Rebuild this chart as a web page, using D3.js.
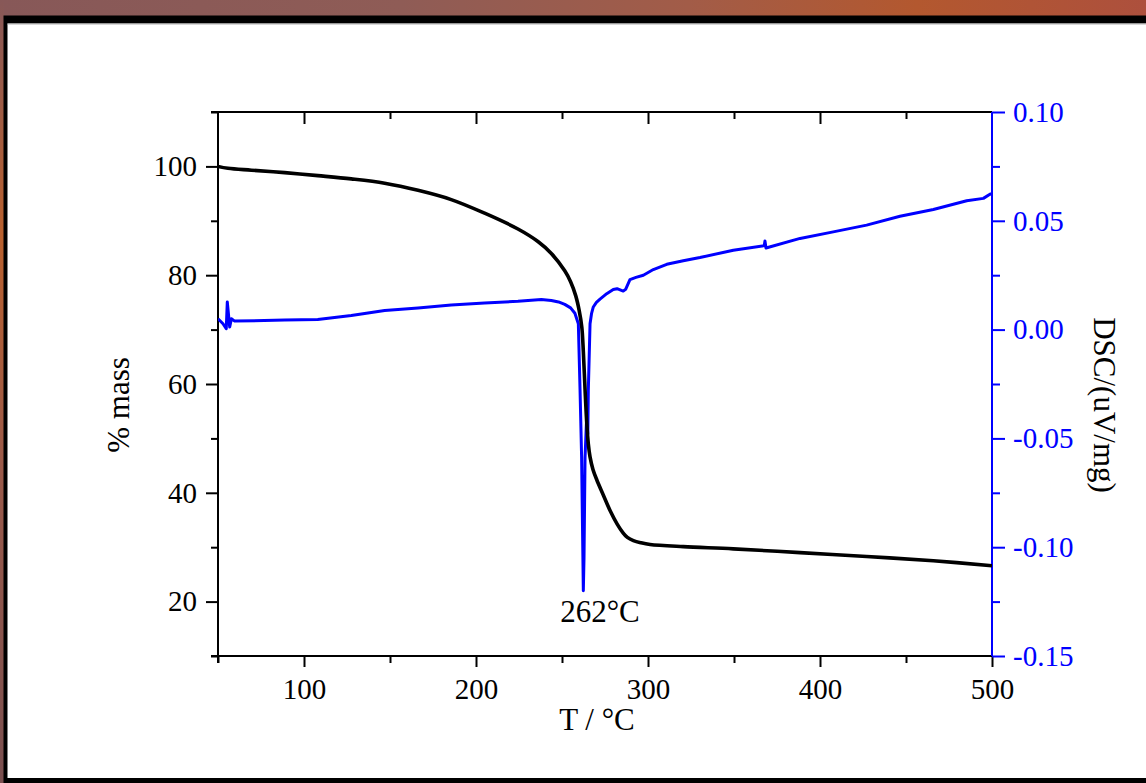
<!DOCTYPE html>
<html><head><meta charset="utf-8">
<script src="https://cdn.jsdelivr.net/npm/d3@7"></script>
<style>html,body{margin:0;padding:0;overflow:hidden;background:#fff}</style>
</head><body><svg id="c" width="1146" height="783"></svg>
<script>
// ---- data ----
const tgaT    = [50, 55.8, 69.4, 88.8, 108.1, 127.5, 146.9, 166.3, 185.6, 205, 224.4, 236, 243.8, 251.6, 255, 258, 260, 261.5, 262.4, 263.4, 264.4, 265.3, 266.3, 268, 270.2, 274, 278, 282, 285.6, 288, 291.5, 296, 301.2, 320.5, 349.6, 388.4, 427.1, 465.9, 500];
const tgaMass = [100.0, 99.65, 99.3, 98.85, 98.3, 97.7, 96.9, 95.6, 93.9, 91.4, 88.5, 86.2, 84.0, 80.8, 78.8, 76.2, 73.5, 70.5, 66.0, 59.0, 52.8, 49.0, 46.6, 44.3, 42.4, 39.6, 36.7, 34.3, 32.6, 31.8, 31.2, 30.8, 30.5, 30.1, 29.7, 29.0, 28.3, 27.5, 26.6];
const dscT   = [50, 52.9, 54.8, 55.4, 56.8, 57.8, 59.7, 88.8, 108, 127.5, 146.9, 166.3, 185.6, 205, 224.4, 238, 243.8, 248, 251.6, 255, 257.5, 259.5, 260.5, 261.4, 262.4, 262.8, 263.4, 264.2, 265, 265.3, 266.3, 267.2, 268.2, 270, 272.1, 276, 279.8, 282, 285.6, 287, 289.5, 293, 297.3, 303.1, 310.9, 320.5, 330.2, 349.6, 367.6, 368, 368.6, 388.4, 407.7, 427.1, 446.5, 465.9, 485.3, 495, 498.8, 500];
const dscVal = [0.005, 0.0027, 0.0004, 0.0127, 0.0012, 0.005, 0.0039, 0.0044, 0.0046, 0.0065, 0.0088, 0.0099, 0.0113, 0.0122, 0.013, 0.0138, 0.0134, 0.0127, 0.0116, 0.0100, 0.0075, 0.0027, -0.028, -0.0587, -0.120, -0.1047, -0.0587, -0.043, -0.048, -0.028, 0.0027, 0.0075, 0.0104, 0.0125, 0.0140, 0.0165, 0.0184, 0.0188, 0.0177, 0.0185, 0.023, 0.0240, 0.025, 0.0276, 0.030, 0.0316, 0.0331, 0.0365, 0.0386, 0.0407, 0.0375, 0.0419, 0.0449, 0.048, 0.0521, 0.0552, 0.0592, 0.0603, 0.0622, 0.0625];
const xTicks  = [100, 200, 300, 400, 500];
const xMinor  = [50, 150, 250, 350, 450];
const yLTicks = [20, 40, 60, 80, 100];
const yLMinor = [10, 30, 50, 70, 90, 110];
const yRTicks = [-0.15, -0.10, -0.05, 0.00, 0.05, 0.10];
const yRMinor = [-0.125, -0.075, -0.025, 0.025, 0.075];
const xTitle = "T / °C", yLTitle = "% mass", yRTitle = "DSC/(uV/mg)", peakLabel = "262°C";

// ---- layout ----
const W = 1146, H = 783;
const L = 218, R = 992, T = 112, B = 656;
const FONT = "'Liberation Serif','Times New Roman',serif";
const BLUE = "#0000ff";
const FS = 29;

const svg = d3.select("#c");
const defs = svg.append("defs");
const g1 = defs.append("linearGradient").attr("id", "bgTop").attr("x1", "0").attr("x2", "1").attr("y1", "0").attr("y2", "0");
[["0%", "#875858"], ["35%", "#8f5c56"], ["60%", "#a25c48"], ["80%", "#b3582f"], ["100%", "#ad503d"]].forEach(s => g1.append("stop").attr("offset", s[0]).attr("stop-color", s[1]));
const g2 = defs.append("linearGradient").attr("id", "bgLeft").attr("x1", "0").attr("x2", "0").attr("y1", "0").attr("y2", "1");
[["0%", "#875858"], ["30%", "#b8602e"], ["60%", "#9a5a4a"], ["100%", "#7a5050"]].forEach(s => g2.append("stop").attr("offset", s[0]).attr("stop-color", s[1]));

svg.append("rect").attr("x", 0).attr("y", 0).attr("width", W).attr("height", H).attr("fill", "url(#bgTop)");
svg.append("rect").attr("x", 0).attr("y", 0).attr("width", 4).attr("height", H).attr("fill", "url(#bgLeft)");
svg.append("rect").attr("x", 3.5).attr("y", 15.5).attr("width", W).attr("height", H).attr("fill", "#000");
svg.append("rect").attr("x", 7.5).attr("y", 23.5).attr("width", W).attr("height", 754.5).attr("fill", "#fff");
svg.append("rect").attr("x", 7.5).attr("y", 23.5).attr("width", W).attr("height", 1).attr("fill", "#b0b0b0");

// ---- scales ----
const x = d3.scaleLinear().domain([50, 500]).range([L, R]);
const yL = d3.scaleLinear().domain([10, 110]).range([B, T]);
const yR = d3.scaleLinear().domain([-0.15, 0.10]).range([B, T]);

function style(g, color) {
  g.selectAll("path.domain").attr("stroke", color).attr("stroke-width", 2);
  g.selectAll(".tick line").attr("stroke", color).attr("stroke-width", 2);
  g.selectAll(".tick text").attr("fill", color).style("font-family", FONT).style("font-size", FS + "px");
}

// top line + inward ticks
svg.append("line").attr("x1", L - 7).attr("x2", R).attr("y1", T).attr("y2", T).attr("stroke", "#000").attr("stroke-width", 2);
const top1 = svg.append("g").attr("transform", `translate(0,${T})`).call(d3.axisBottom(x).tickValues(xTicks.filter(v => v < 500)).tickSize(12).tickFormat(""));
top1.select(".domain").remove(); style(top1, "#000");
const top2 = svg.append("g").attr("transform", `translate(0,${T})`).call(d3.axisBottom(x).tickValues(xMinor.filter(v => v > 50)).tickSize(7).tickFormat(""));
top2.select(".domain").remove(); style(top2, "#000");

// bottom axis
const bx = svg.append("g").attr("transform", `translate(0,${B})`).call(d3.axisBottom(x).tickValues(xTicks).tickSize(11).tickSizeOuter(0).tickPadding(11).tickFormat(d3.format("d")));
style(bx, "#000");
bx.select(".domain").attr("d", `M${L - 7},0H${R}`);
const bxm = svg.append("g").attr("transform", `translate(0,${B})`).call(d3.axisBottom(x).tickValues(xMinor).tickSize(7).tickFormat(""));
bxm.select(".domain").remove(); style(bxm, "#000");

// left axis
const ly = svg.append("g").attr("transform", `translate(${L},0)`).call(d3.axisLeft(yL).tickValues(yLTicks).tickSize(12).tickSizeOuter(0).tickPadding(9).tickFormat(d3.format("d")));
style(ly, "#000");
ly.select(".domain").attr("d", `M0,${B + 7}V${T}`);
const lym = svg.append("g").attr("transform", `translate(${L},0)`).call(d3.axisLeft(yL).tickValues(yLMinor).tickSize(7).tickFormat(""));
lym.select(".domain").remove(); style(lym, "#000");

// right axis (blue)
const ry = svg.append("g").attr("transform", `translate(${R},0)`).call(d3.axisRight(yR).tickValues(yRTicks).tickSize(13).tickSizeOuter(0).tickPadding(8).tickFormat(v => v.toFixed(2)));
style(ry, BLUE);
ry.select(".domain").attr("d", `M0,${B}V${T}`);
const rym = svg.append("g").attr("transform", `translate(${R},0)`).call(d3.axisRight(yR).tickValues(yRMinor).tickSize(8).tickFormat(""));
rym.select(".domain").remove(); style(rym, BLUE);

// ---- curves ----
defs.append("clipPath").attr("id", "plot").append("rect").attr("x", L).attr("y", T).attr("width", R - L).attr("height", B - T);
const plot = svg.append("g").attr("clip-path", "url(#plot)");

const dscLine = d3.line().x((d, i) => x(dscT[i])).y(d => yR(d));
plot.append("path").attr("d", dscLine(dscVal)).attr("fill", "none").attr("stroke", BLUE).attr("stroke-width", 3).attr("stroke-linejoin", "round");

const tgaLine = d3.line().curve(d3.curveCatmullRom.alpha(0.5)).x((d, i) => x(tgaT[i])).y(d => yL(d));
plot.append("path").attr("d", tgaLine(tgaMass)).attr("fill", "none").attr("stroke", "#000").attr("stroke-width", 3.6).attr("stroke-linejoin", "round");

// ---- texts ----
svg.append("text").attr("x", 600).attr("y", 622).attr("text-anchor", "middle")
  .style("font-family", FONT).style("font-size", "31px").attr("fill", "#000").text(peakLabel);
svg.append("text").attr("x", 597).attr("y", 730).attr("text-anchor", "middle")
  .style("font-family", FONT).style("font-size", "31px").attr("fill", "#000").text(xTitle);
svg.append("text").attr("transform", "translate(118,405) rotate(-90)").attr("text-anchor", "middle").attr("dy", "0.35em")
  .style("font-family", FONT).style("font-size", "31px").attr("fill", "#000").text(yLTitle);
svg.append("text").attr("transform", "translate(1105,405) rotate(90)").attr("text-anchor", "middle").attr("dy", "0.35em")
  .style("font-family", FONT).style("font-size", "31px").attr("fill", "#000").text(yRTitle);
</script></body></html>
